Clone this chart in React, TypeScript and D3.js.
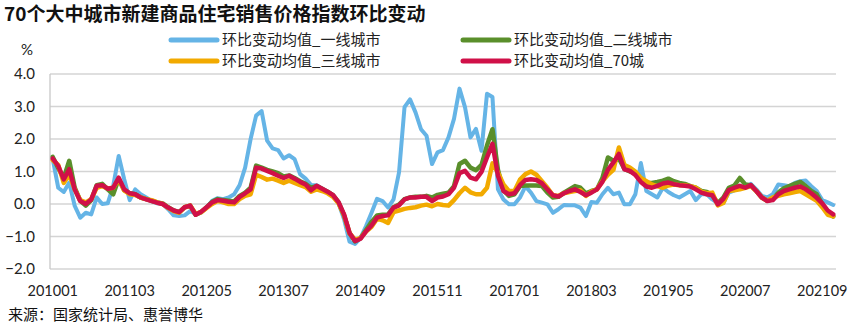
import React from "react";
import * as d3 from "d3";

const seriesNames = ["环比变动均值_一线城市", "环比变动均值_二线城市", "环比变动均值_三线城市", "环比变动均值_70城"];

const tier1 = [
  1.38,0.5,0.37,0.66,-0.06,-0.42,-0.27,-0.32,0.2,0.0,0.02,0.56,1.48,0.76,0.12,0.45,0.3,0.2,0.09,0.02,0.0,-0.16,-0.35,-0.37,
  -0.35,-0.22,-0.3,-0.25,-0.1,0.1,0.18,0.15,0.2,0.3,0.58,1.12,2.0,2.72,2.86,1.95,1.71,1.66,1.4,1.5,1.38,0.92,0.78,0.58,
  0.58,0.47,0.38,0.23,0.02,-0.47,-1.16,-1.23,-1.04,-0.68,-0.27,0.16,0.09,-0.11,0.14,0.97,2.98,3.22,2.82,2.3,2.1,1.23,1.59,1.66,
  2.05,2.62,3.55,2.98,2.05,2.31,1.64,3.39,3.29,0.45,0.14,-0.01,-0.01,0.2,0.54,0.35,0.09,0.04,-0.01,-0.27,-0.16,-0.03,-0.04,-0.04,
  -0.11,-0.37,0.06,0.04,0.3,0.5,0.3,0.35,-0.01,-0.01,0.3,1.26,0.4,0.3,0.2,0.5,0.37,0.27,0.2,0.3,0.4,0.12,0.3,0.3,
  0.14,0.02,0.04,0.35,0.42,0.48,0.52,0.62,0.45,0.25,0.2,0.3,0.6,0.58,0.55,0.65,0.7,0.72,0.55,0.4,0.12,0.05,-0.03,
];

const tier2 = [
  1.45,1.1,0.8,1.33,0.5,0.1,-0.05,0.12,0.58,0.62,0.45,0.3,0.78,0.42,0.33,0.3,0.2,0.15,0.1,0.05,0.02,-0.1,-0.2,-0.25,
  -0.1,-0.05,-0.33,-0.25,-0.1,0.07,0.15,0.12,0.1,0.08,0.25,0.35,0.5,1.18,1.12,1.05,1.0,0.95,0.85,0.88,0.8,0.7,0.62,0.5,
  0.55,0.47,0.38,0.27,0.05,-0.35,-0.9,-1.15,-1.05,-0.8,-0.55,-0.35,-0.33,-0.32,-0.1,-0.02,0.15,0.2,0.22,0.22,0.25,0.2,0.28,0.32,
  0.35,0.55,1.23,1.33,1.12,1.04,1.2,1.8,2.3,1.05,0.42,0.25,0.3,0.55,0.57,0.57,0.57,0.55,0.35,0.2,0.22,0.35,0.45,0.55,
  0.5,0.33,0.4,0.45,0.8,1.43,1.33,1.4,1.08,1.0,0.95,0.72,0.65,0.65,0.68,0.72,0.78,0.7,0.65,0.62,0.55,0.5,0.4,0.37,
  0.27,0.03,0.2,0.5,0.57,0.8,0.6,0.58,0.4,0.2,0.1,0.15,0.35,0.48,0.55,0.62,0.68,0.55,0.4,0.3,0.0,-0.25,-0.38,
];

const tier3 = [
  1.35,1.2,0.65,0.9,0.45,0.12,0.05,0.15,0.5,0.55,0.48,0.5,0.75,0.42,0.3,0.28,0.2,0.15,0.12,0.05,0.0,-0.12,-0.22,-0.27,
  -0.1,-0.05,-0.3,-0.25,-0.12,0.0,0.1,0.05,0.0,0.0,0.15,0.25,0.3,0.9,0.83,0.75,0.78,0.72,0.65,0.72,0.65,0.58,0.52,0.38,
  0.45,0.4,0.33,0.22,0.02,-0.35,-0.9,-1.1,-1.05,-0.85,-0.7,-0.45,-0.5,-0.58,-0.25,-0.2,-0.15,-0.12,-0.1,-0.05,-0.02,-0.07,0.0,-0.03,
  -0.05,0.12,0.33,0.5,0.36,0.3,0.3,0.5,1.25,0.97,0.6,0.4,0.4,0.75,0.92,1.0,0.9,0.7,0.5,0.27,0.25,0.33,0.37,0.4,
  0.42,0.25,0.38,0.45,0.7,0.9,1.05,1.74,1.2,1.12,1.0,0.8,0.7,0.6,0.55,0.5,0.57,0.6,0.58,0.58,0.55,0.5,0.38,0.33,
  0.35,-0.04,0.03,0.4,0.42,0.45,0.5,0.55,0.4,0.2,0.1,0.2,0.25,0.3,0.33,0.37,0.4,0.3,0.2,0.1,-0.1,-0.33,-0.38,
];

const city70 = [
  1.4,1.17,0.76,1.07,0.45,0.09,0.0,0.14,0.56,0.58,0.47,0.5,0.81,0.45,0.33,0.3,0.2,0.14,0.09,0.04,0.0,-0.11,-0.2,-0.25,
  -0.1,-0.05,-0.33,-0.24,-0.1,0.05,0.12,0.1,0.07,0.05,0.22,0.33,0.45,1.12,1.09,1.02,0.95,0.87,0.8,0.87,0.78,0.68,0.6,0.42,
  0.56,0.47,0.38,0.27,0.06,-0.32,-0.89,-1.14,-1.07,-0.84,-0.66,-0.42,-0.37,-0.35,-0.11,-0.04,0.14,0.2,0.2,0.22,0.22,0.09,0.2,0.23,
  0.3,0.5,0.95,1.02,0.81,0.76,0.99,1.43,1.85,0.87,0.4,0.3,0.33,0.58,0.74,0.76,0.74,0.64,0.45,0.27,0.23,0.33,0.4,0.45,
  0.37,0.27,0.35,0.45,0.68,1.05,1.28,1.54,1.07,1.02,0.89,0.68,0.54,0.5,0.56,0.63,0.66,0.61,0.58,0.56,0.54,0.45,0.35,0.3,
  0.27,-0.01,0.16,0.43,0.5,0.56,0.5,0.58,0.4,0.2,0.09,0.12,0.3,0.4,0.45,0.5,0.54,0.45,0.33,0.19,0.02,-0.2,-0.32,
];

const months: string[] = [];
for (let y = 2010; y <= 2021; y++) {
  for (let m = 1; m <= 12; m++) {
    if (y === 2021 && m > 11) break;
    months.push(`${y}${String(m).padStart(2, "0")}`);
  }
}

const xTickLabels = ["201001", "201103", "201205", "201307", "201409", "201511", "201701", "201803", "201905", "202007", "202109"];
const yTicks = [-2, -1, 0, 1, 2, 3, 4];

const colors = ["#65B4E6", "#5A8F2B", "#F2AA00", "#D01048"];
const widths = [4, 4.5, 4.5, 4.5];

const W = 863, H = 332;
const left = 50, right = 836, top = 74, bottom = 269;
const cjk = "'Noto Sans CJK SC', 'Noto Sans', sans-serif";
const latin = "Lato, 'Noto Sans CJK SC', sans-serif";

export default function App() {
  const x = d3.scalePoint<string>().domain(months).range([left, right]).padding(0.5);
  const y = d3.scaleLinear().domain([-2, 4]).range([bottom, top]);
  const allSeries = [tier1, tier2, tier3, city70];
  const line = d3.line<number>().x((_, i) => x(months[i]) as number).y((d) => y(d)).curve(d3.curveLinear);

  const legend = [
    { i: 0, lx: 171, ly: 40 },
    { i: 1, lx: 463, ly: 40 },
    { i: 2, lx: 171, ly: 61 },
    { i: 3, lx: 463, ly: 61 },
  ];

  return (
    <svg width={W} height={H} style={{ position: "absolute", left: 0, top: 0, background: "#fff" }}>
      <text x={4} y={21} fontFamily={cjk} fontWeight="bold" fontSize={19} fill="#111">70个大中城市新建商品住宅销售价格指数环比变动</text>
      {yTicks.map((t) => (
        <line key={t} x1={left} x2={right} y1={y(t)} y2={y(t)} stroke="#d4d4d4" strokeWidth={1.3} />
      ))}
      <line x1={left} x2={left} y1={top} y2={bottom} stroke="#c8c8c8" strokeWidth={1.3} />
      {yTicks.map((t) => (
        <text key={t} x={35} y={y(t) + 5} textAnchor="end" fontFamily={latin} fontSize={15} fill="#222">{d3.format(".1f")(t)}</text>
      ))}
      <text x={27} y={55} textAnchor="middle" fontFamily={latin} fontSize={15} fill="#222">%</text>
      {xTickLabels.map((m) => (
        <text key={m} x={x(m) as number} y={296} textAnchor="middle" fontFamily={latin} fontSize={14.5} fill="#222">{m}</text>
      ))}
      {allSeries.map((s, k) => (
        <path key={k} d={line(s) || ""} fill="none" stroke={colors[k]} strokeWidth={widths[k]} strokeLinejoin="round" strokeLinecap="round" />
      ))}
      {legend.map(({ i, lx, ly }) => (
        <g key={i}>
          <line x1={lx} x2={lx + 46} y1={ly} y2={ly} stroke={colors[i]} strokeWidth={5} strokeLinecap="round" />
          <text x={lx + 51} y={ly + 5} fontFamily={cjk} fontSize={15} fill="#222">{seriesNames[i]}</text>
        </g>
      ))}
      <text x={8} y={320} fontFamily={cjk} fontSize={15} fill="#111">来源：国家统计局、惠誉博华</text>
    </svg>
  );
}
